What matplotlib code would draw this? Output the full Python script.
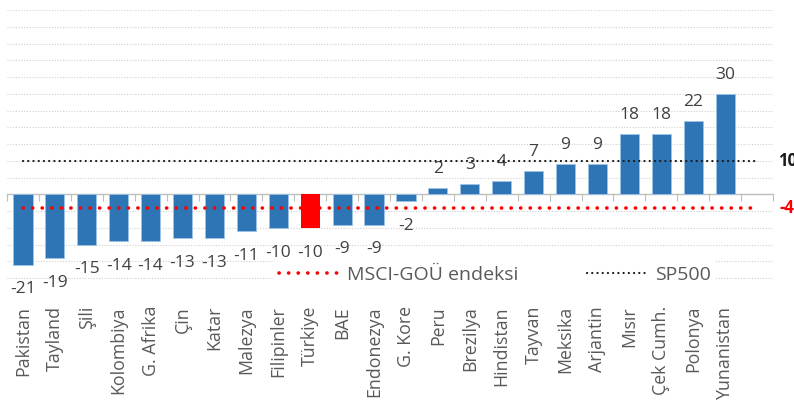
import matplotlib
matplotlib.use("Agg")
import matplotlib.pyplot as plt
from matplotlib.lines import Line2D
import matplotlib.transforms as mtransforms

plt.rcParams['font.family'] = ['Open Sans', 'DejaVu Sans']

countries = ["Pakistan", "Tayland", "Şili", "Kolombiya", "G. Afrika", "Çin", "Katar",
             "Malezya", "Filipinler", "Türkiye", "BAE", "Endonezya", "G. Kore", "Peru",
             "Brezilya", "Hindistan", "Tayvan", "Meksika", "Arjantin", "Mısır",
             "Çek Cumh.", "Polonya", "Yunanistan"]
returns = [-21, -19, -15, -14, -14, -13, -13, -11, -10, -10, -9, -9, -2, 2, 3, 4,
           7, 9, 9, 18, 18, 22, 30]
highlight = "Türkiye"
msci_em = -4
sp500 = 10
legend_labels = ["MSCI-GOÜ endeksi", "SP500"]

BLUE = "#2E75B6"
RED = "#FF0000"
TXT = "#404040"

fig = plt.figure(figsize=(7.94, 4.07), dpi=100)
ax = fig.add_axes([7 / 794, 1 - 295 / 407, 766 / 794, 285 / 407])

n = len(countries)
slots = n + 1  # one empty slot on the right for the reference-line labels
xs = list(range(n))
colors = [RED if c == highlight else BLUE for c in countries]
edges = ["none" if c == highlight else "#9DC3E6" for c in countries]
ax.bar(xs, returns, width=0.6, color=colors, edgecolor=edges, linewidth=0.6, zorder=3)

# reference lines across all slots
lx = list(range(slots))
ax.plot(lx, [msci_em] * slots, color=RED, lw=2.6, linestyle=(0, (0.05, 2.6)),
        dash_capstyle="round", zorder=4)
ax.plot(lx, [sp500] * slots, color="#1a1a1a", lw=1.6, linestyle=(0, (0.05, 2.3)),
        dash_capstyle="round", zorder=4)
ax.annotate(f"{sp500}", (lx[-1], sp500), xytext=(15, 0), textcoords="offset points",
            ha="left", va="center", fontsize=12, fontweight="bold", color="#1a1a1a",
            annotation_clip=False)
ax.annotate(f"{msci_em}", (lx[-1], msci_em), xytext=(16, 0), textcoords="offset points",
            ha="left", va="center", fontsize=12, fontweight="bold", color=RED,
            annotation_clip=False)

# value labels
for x, v in zip(xs, returns):
    if v < 0:
        ax.annotate(f"{v}", (x, v), xytext=(0, -12), textcoords="offset points",
                    ha="center", va="top", fontsize=12.5, color=TXT)
    else:
        ax.annotate(f"{v}", (x, v), xytext=(0, 8), textcoords="offset points",
                    ha="center", va="bottom", fontsize=12.5, color=TXT)

ax.set_xlim(-0.5, slots - 0.5)
ax.set_ylim(-30, 55)

# horizontal dotted grid
ax.set_yticks(range(-30, 56, 5))
ax.yaxis.grid(True, color="#D0D0D0", linestyle=(0, (1, 1.5)), linewidth=0.8, zorder=0)
ax.tick_params(axis="y", length=0, labelleft=False)

# category axis at zero with ticks between categories
for s in ["top", "right", "left"]:
    ax.spines[s].set_visible(False)
ax.spines["bottom"].set_position(("data", 0))
ax.spines["bottom"].set_color("#BFBFBF")
ax.spines["bottom"].set_linewidth(1.0)
ax.spines["bottom"].set_zorder(2)
ax.set_xticks([i - 0.5 for i in range(slots + 1)])
ax.tick_params(axis="x", direction="out", length=5, color="#BFBFBF", labelbottom=False)

# category labels below the plot
trans = mtransforms.blended_transform_factory(ax.transData, ax.transAxes)
for x, c in zip(xs, countries):
    ax.text(x, 0, c, transform=trans + mtransforms.ScaledTranslation(0, -11 / 100, fig.dpi_scale_trans),
            rotation=90, ha="center", va="top", fontsize=12.8, color="#595959")

handles = [
    Line2D([], [], color=RED, lw=2.6, linestyle=(0, (0.05, 2.6)), dash_capstyle="round"),
    Line2D([], [], color="#1a1a1a", lw=1.6, linestyle=(0, (0.05, 2.3)), dash_capstyle="round"),
]
leg = ax.legend(handles, legend_labels, ncol=2, loc="center left",
                bbox_to_anchor=(0.335, 0.07), frameon=True, facecolor="white",
                edgecolor="none", framealpha=1, fontsize=14, handlelength=3.2,
                handletextpad=0.3, columnspacing=3.5, borderpad=0.3)
for t in leg.get_texts():
    t.set_color("#595959")
leg.set_zorder(5)

fig.savefig("out.png", dpi=100)
